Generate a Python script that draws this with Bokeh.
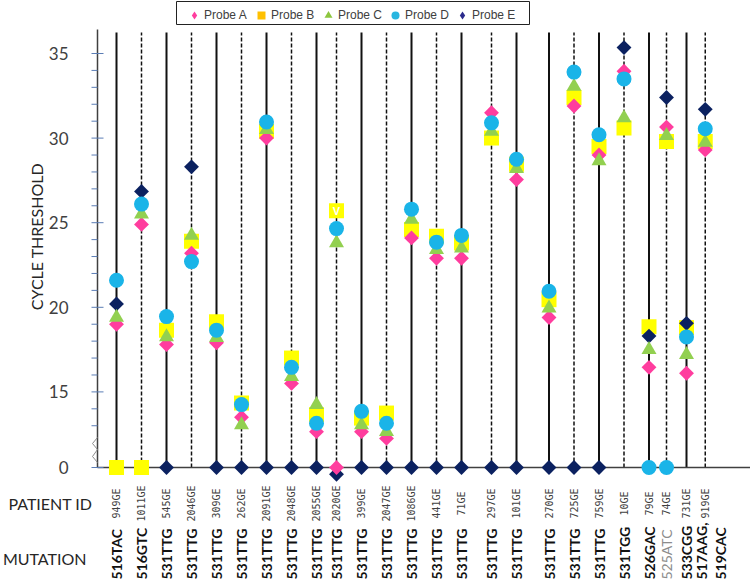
import numpy as np
from bokeh.plotting import figure
from bokeh.models import ColumnDataSource, Legend, LegendItem, Range1d
from bokeh.core.properties import value
from bokeh.embed import file_html
from bokeh.resources import INLINE

# ---------------- data ----------------
patients = ["949GE", "1011GE", "545GE", "2046GE", "309GE", "262GE", "2091GE", "2048GE",
            "2055GE", "2020GE", "399GE", "2047GE", "1086GE", "441GE", "71GE", "297GE",
            "101GE", "270GE", "725GE", "759GE", "10GE", "79GE", "74GE", "731GE", "919GE"]
mutations = ["516TAC", "516GTC", "531TTG", "531TTG", "531TTG", "531TTG", "531TTG", "531TTG",
             "531TTG", "531TTG", "531TTG", "531TTG", "531TTG", "531TTG", "531TTG", "531TTG",
             "531TTG", "531TTG", "531TTG", "531TTG", "531TGG", "526GAC", "525ATC", "533CGG",
             "517AAG,\n519CAC"]
# horizontal slot of each patient column
col_pos = [1, 2, 3, 4, 5, 6, 7, 8, 9, 9.8, 10.8, 11.8, 12.8, 13.8, 14.8, 16, 17,
           18.3, 19.3, 20.3, 21.3, 22.3, 23, 23.8, 24.55]
line_style = ["solid", "dashed", "solid", "dashed", "solid", "dashed", "solid", "dashed",
              "solid", "dashed", "solid", "dashed", "solid", "dashed", "solid", "dashed",
              "solid", "solid", "dashed", "solid", "dashed", "solid", "dashed", "solid", "dashed"]

# cycle threshold per probe (0 = not detected)
probe_a = [19.0, 24.9, 17.8, 23.2, 17.9, 13.5, 30.0, 15.5, 12.65, 0, 12.65, 12.25, 24.1,
           22.9, 22.9, 31.5, 27.55, 19.4, 31.9, 29.0, 33.95, 16.45, 30.65, 16.1, 29.3]
probe_b = [0, 0, 18.65, 23.9, 19.15, 14.35, 30.4, 17.0, 13.65, 25.7, 13.45, 13.75, 24.6,
           24.2, 23.8, 30.0, 28.45, 20.45, 32.4, 29.5, 30.6, 18.85, 29.8, 18.8, 29.8]
probe_c = [19.4, 25.5, 18.25, 24.25, 18.2, 13.05, 30.5, 15.9, 14.25, 23.8, 13.05, 12.65, 25.2,
           23.4, 23.5, 30.4, 28.2, 19.95, 33.05, 28.65, 31.2, 17.5, 30.15, 17.2, 29.75]
probe_d = [21.6, 26.1, 19.45, 22.7, 18.65, 14.25, 30.95, 16.45, 13.15, 24.65, 13.85, 13.15, 25.8,
           23.85, 24.25, 30.9, 28.75, 20.95, 33.9, 30.2, 33.5, 0, 0, 18.25, 30.55]
probe_e = [20.2, 26.85, 0, 28.3, 0, 0, 0, 0, 0, -0.4, 0, 0, 0, 0, 0, 0, 0, 0, 0, 0,
           35.35, 18.3, 32.4, 19.05, 31.7]

major_ticks = [0, 15, 20, 25, 30, 35]
minor_ticks = [13, 14, 16, 17, 18, 19, 21, 22, 23, 24, 26, 27, 28, 29, 31, 32, 33, 34]
flag_marks = {"2020GE": "V"}
muted_mutations = ["525ATC"]

# ---------------- canvas geometry ----------------
W, H = 750, 583
SLOT_PX = 25.0        # pixels per column slot
UNIT_PX = 16.92       # pixels per Ct unit


def xpx(px):
    """x data value at a canvas pixel column"""
    return 1 + (px - 116) / SLOT_PX


def ypx(py):
    """y data value at a canvas pixel row"""
    return 35 - (py - 53) / UNIT_PX


ZERO_POS = ypx(467)     # where "0" sits on the broken axis
AXIS_X = xpx(97)
AXIS_TOP = ypx(29)
LINE_TOP = ypx(32)
PID_Y = ypx(503)
MUT_Y = ypx(579)


def to_axis(v):
    return v if v > 5 else ZERO_POS + v


p = figure(width=W, height=H, output_backend="svg", toolbar_location=None,
           x_range=Range1d(xpx(0), xpx(W)), y_range=Range1d(ypx(H), ypx(0)),
           x_axis_location=None, y_axis_location=None,
           min_border_left=0, min_border_right=0, min_border_top=0, min_border_bottom=0)
p.grid.visible = False
p.outline_line_color = None
p.background_fill_color = "white"
p.border_fill_color = "white"

# vertical patient lines
solid_x = [x for x, s in zip(col_pos, line_style) if s == "solid"]
dash_x = [x for x, s in zip(col_pos, line_style) if s == "dashed"]
p.segment(x0="x", y0=ZERO_POS, x1="x", y1=LINE_TOP, source=ColumnDataSource(dict(x=solid_x)),
          line_color="#111111", line_width=2)
p.segment(x0="x", y0=ZERO_POS, x1="x", y1=LINE_TOP, source=ColumnDataSource(dict(x=dash_x)),
          line_color="#111111", line_width=1.5, line_dash="4 2")

# zero line
p.segment(x0=[AXIS_X], y0=[ZERO_POS], x1=[xpx(W)], y1=[ZERO_POS], line_color="#404040",
          line_width=1.5)

# ---------------- y axis ----------------
tick_y = [to_axis(t) for t in major_ticks]
p.segment(x0=[AXIS_X], y0=[ZERO_POS], x1=[AXIS_X], y1=[AXIS_TOP], line_color="#404040",
          line_width=1.5)
p.segment(x0=AXIS_X - 6 / SLOT_PX, y0=tick_y, x1=AXIS_X + 6 / SLOT_PX, y1=tick_y,
          line_color="#5B7DB5", line_width=1)
p.segment(x0=AXIS_X - 6 / SLOT_PX, y0=minor_ticks, x1=AXIS_X, y1=minor_ticks,
          line_color="#5B7DB5", line_width=1)
p.text(x=AXIS_X - 29 / SLOT_PX, y=tick_y, text=[str(t) for t in major_ticks],
       text_align="right", text_baseline="middle", text_font=value("Lato"),
       text_font_size="17px", text_color="#404040")
# axis break mark
p.line(x=[AXIS_X + d / SLOT_PX for d in (0, -5, 0, -5, 0)],
       y=[ypx(r) for r in (437, 443, 449, 456, 462)], line_color="#8C8C8C", line_width=1)

# ---------------- markers: draw order B, E, A, C, D ----------------
probes = {
    "A": (probe_a, "#FF3D9E", "square", np.pi / 4, 10.5),
    "B": (probe_b, "#FFFF00", "square", 0, 15),
    "C": (probe_c, "#92D050", "triangle", 0, 15),
    "D": (probe_d, "#1AB4E8", "circle", 0, 15),
    "E": (probe_e, "#0B2160", "square", np.pi / 4, 10.5),
}
for key in ["B", "E", "A", "C", "D"]:
    vals, color, marker, ang, size = probes[key]
    src = ColumnDataSource(dict(x=col_pos, y=[to_axis(v) for v in vals]))
    p.scatter(x="x", y="y", source=src, marker=marker, angle=ang, size=size,
              fill_color=color, line_color=None)

# flag letter on Probe B square
fx, fy, ft = [], [], []
for pid, letter in flag_marks.items():
    i = patients.index(pid)
    fx.append(col_pos[i]); fy.append(to_axis(probe_b[i])); ft.append(letter)
p.text(x=fx, y=fy, text=ft, text_color="white", text_font=value("Liberation Sans"),
       text_font_size="11px", text_font_style="bold", text_align="center",
       text_baseline="middle")

# ---------------- category labels ----------------
p.text(x=col_pos, y=[PID_Y] * len(col_pos), text=patients, angle=np.pi / 2,
       text_align="center", text_baseline="middle", text_font=value("DejaVu Sans Mono"),
       text_font_size="10px", text_color="#404040")

mut_color = ["#8C8C8C" if m in muted_mutations else "#111111" for m in mutations]
mut_style = ["normal" if m in muted_mutations else "bold" for m in mutations]
mut_off = [6 if "\n" in m else 0 for m in mutations]
msrc = ColumnDataSource(dict(x=col_pos, y=[MUT_Y] * len(col_pos), text=mutations,
                             color=mut_color, style=mut_style, off=mut_off))
p.text(x="x", y="y", text="text", source=msrc, angle=np.pi / 2, text_align="left",
       text_baseline="middle", text_font=value("Lato"), text_font_size="14px",
       text_font_style="style", text_color="color", x_offset="off", text_line_height=1.1)

# ---------------- titles ----------------
p.text(x=[xpx(36)], y=[ypx(236)], text=["CYCLE THRESHOLD"], angle=np.pi / 2,
       text_align="center", text_baseline="middle", text_font=value("Lato"),
       text_font_size="16px", text_color="#262626")
p.text(x=[xpx(92), xpx(86)], y=[PID_Y, ypx(558)], text=["PATIENT ID", "MUTATION"],
       text_align="right", text_baseline="middle", text_font=value("Lato"),
       text_font_size="16px", text_color="#262626")

# ---------------- legend ----------------
p.quad(left=[xpx(176)], right=[xpx(529)], top=[ypx(1)], bottom=[ypx(24)],
       fill_color="white", line_color="#222222", line_width=1)
legend_spec = [("Probe A", "#FF3D9E", "diamond"),
               ("Probe B", "#FFC000", "square"),
               ("Probe C", "#8DC63F", "triangle"),
               ("Probe D", "#29B6E0", "circle"),
               ("Probe E", "#2B2A8C", "diamond")]
items = []
for name, color, marker in legend_spec:
    r = p.scatter(x=[np.nan], y=[np.nan], marker=marker, size=8,
                  fill_color=color, line_color=None)
    items.append(LegendItem(label=name, renderers=[r]))
legend = Legend(items=items, orientation="horizontal", location=(184, H - 25),
                glyph_width=20, glyph_height=20, label_height=20, label_width=47,
                label_standoff=0, spacing=0, padding=2, margin=0,
                label_text_font="Liberation Sans", label_text_font_size="12px",
                label_text_color="#404040", border_line_color=None,
                background_fill_alpha=0)
p.add_layout(legend, "center")

open("out.html", "w").write(file_html(p, INLINE))
